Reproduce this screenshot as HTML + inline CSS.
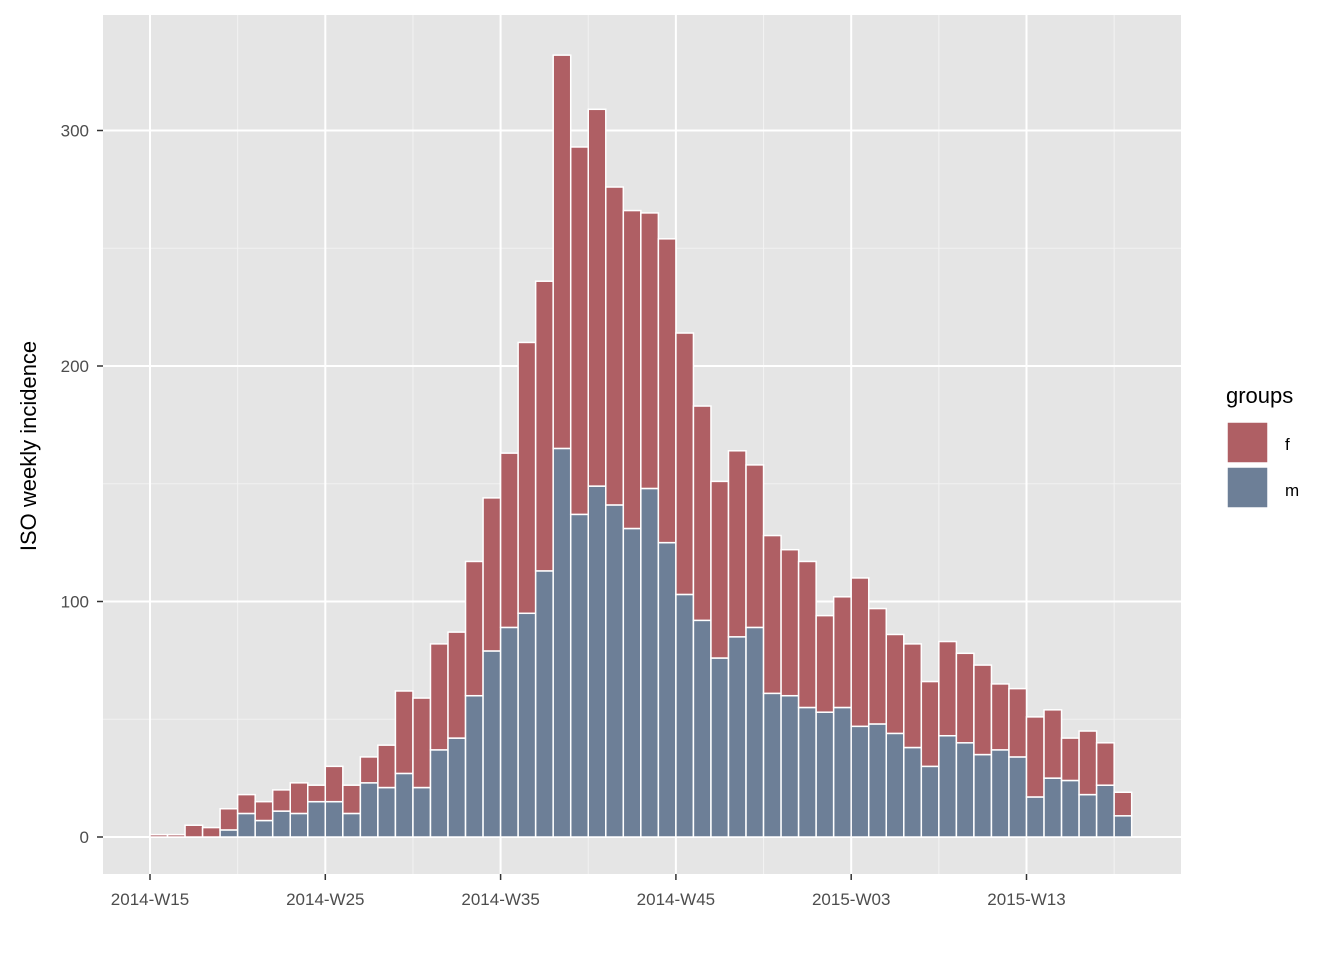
<!DOCTYPE html>
<html><head><meta charset="utf-8"><style>
body{margin:0;background:#fff;}
svg text{font-family:"Liberation Sans",Arial,sans-serif;}
</style></head><body>
<svg id="chart" width="1344" height="960" xmlns="http://www.w3.org/2000/svg">
<rect x="103" y="15" width="1078" height="859" fill="#e5e5e5"/>
<g id="grid"></g>
<g id="bars"></g>
<g id="axes"></g>
<text transform="translate(36,446) rotate(-90)" text-anchor="middle" font-size="22" fill="#000">ISO weekly incidence</text>
<g>
<text x="1226" y="403" font-size="22" fill="#000">groups</text>
<rect x="1227" y="422" width="41" height="41" fill="#af5f64" stroke="#fff" stroke-width="1.5"/>
<rect x="1227" y="467" width="41" height="41" fill="#6d7f97" stroke="#fff" stroke-width="1.5"/>
<text x="1285" y="450" font-size="17" fill="#000">f</text>
<text x="1285" y="496" font-size="17" fill="#000">m</text>
</g>
</svg>
<script>
const weeks=["2014-W15","2014-W16","2014-W17","2014-W18","2014-W19","2014-W20","2014-W21","2014-W22","2014-W23","2014-W24","2014-W25","2014-W26","2014-W27","2014-W28","2014-W29","2014-W30","2014-W31","2014-W32","2014-W33","2014-W34","2014-W35","2014-W36","2014-W37","2014-W38","2014-W39","2014-W40","2014-W41","2014-W42","2014-W43","2014-W44","2014-W45","2014-W46","2014-W47","2014-W48","2014-W49","2014-W50","2014-W51","2014-W52","2015-W01","2015-W02","2015-W03","2015-W04","2015-W05","2015-W06","2015-W07","2015-W08","2015-W09","2015-W10","2015-W11","2015-W12","2015-W13","2015-W14","2015-W15","2015-W16","2015-W17","2015-W18"];
const mValues=[0,0,0,0,3,10,7,11,10,15,15,10,23,21,27,21,37,42,60,79,89,95,113,165,137,149,141,131,148,125,103,92,76,85,89,61,60,55,53,55,47,48,44,38,30,43,40,35,37,34,17,25,24,18,22,9];
const totalValues=[1,1,5,4,12,18,15,20,23,22,30,22,34,39,62,59,82,87,117,144,163,210,236,332,293,309,276,266,265,254,214,183,151,164,158,128,122,117,94,102,110,97,86,82,66,83,78,73,65,63,51,54,42,45,40,19];
const yTicks=[0,100,200,300];
const yMinor=[50,150,250];
const xTickLabels=["2014-W15","2014-W25","2014-W35","2014-W45","2015-W03","2015-W13"];

const NS="http://www.w3.org/2000/svg";
const X0=150, W=17.53, Y0=837, K=2.355;
const xs=i=>X0+i*W;
const ys=v=>Y0-v*K;
function mk(tag,attrs,parent){const e=document.createElementNS(NS,tag);for(const k in attrs)e.setAttribute(k,attrs[k]);parent.appendChild(e);return e;}
const grid=document.getElementById('grid'),bars=document.getElementById('bars'),axes=document.getElementById('axes');
yMinor.forEach(v=>{const l=mk('line',{x1:103,x2:1181,y1:ys(v),y2:ys(v),stroke:'#f2f2f2','stroke-width':1},grid);

});
xTickLabels.forEach((t,j)=>{const i=weeks.indexOf(t);const xm=xs(i)+5*W;
const l=mk('line',{x1:xm,x2:xm,y1:15,y2:874,stroke:'#f2f2f2','stroke-width':1},grid);

});
yTicks.forEach(v=>{const l=mk('line',{x1:103,x2:1181,y1:ys(v),y2:ys(v),stroke:'#fff','stroke-width':2},grid);


const tk=mk('line',{x1:97,x2:103,y1:ys(v),y2:ys(v),stroke:'#333','stroke-width':1.5},axes);


const t=mk('text',{x:89,y:ys(v)+6,'text-anchor':'end','font-size':17,fill:'#4d4d4d'},axes);t.textContent=v;

});
xTickLabels.forEach(lab=>{const x=xs(weeks.indexOf(lab));
const l=mk('line',{x1:x,x2:x,y1:15,y2:874,stroke:'#fff','stroke-width':2},grid);


const tk=mk('line',{x1:x,x2:x,y1:874,y2:880,stroke:'#333','stroke-width':1.5},axes);


const t=mk('text',{x:x,y:905,'text-anchor':'middle','font-size':17,fill:'#4d4d4d'},axes);t.textContent=lab;

});
weeks.forEach((w,i)=>{const m=mValues[i],tot=totalValues[i];
const rm=mk('rect',{x:xs(i),y:ys(m),width:W,height:m*K,fill:'#6d7f97',stroke:'#fff','stroke-width':1.5},bars);


const rf=mk('rect',{x:xs(i),y:ys(tot),width:W,height:(tot-m)*K,fill:'#af5f64',stroke:'#fff','stroke-width':1.5},bars);

});
</script>
</body></html>
